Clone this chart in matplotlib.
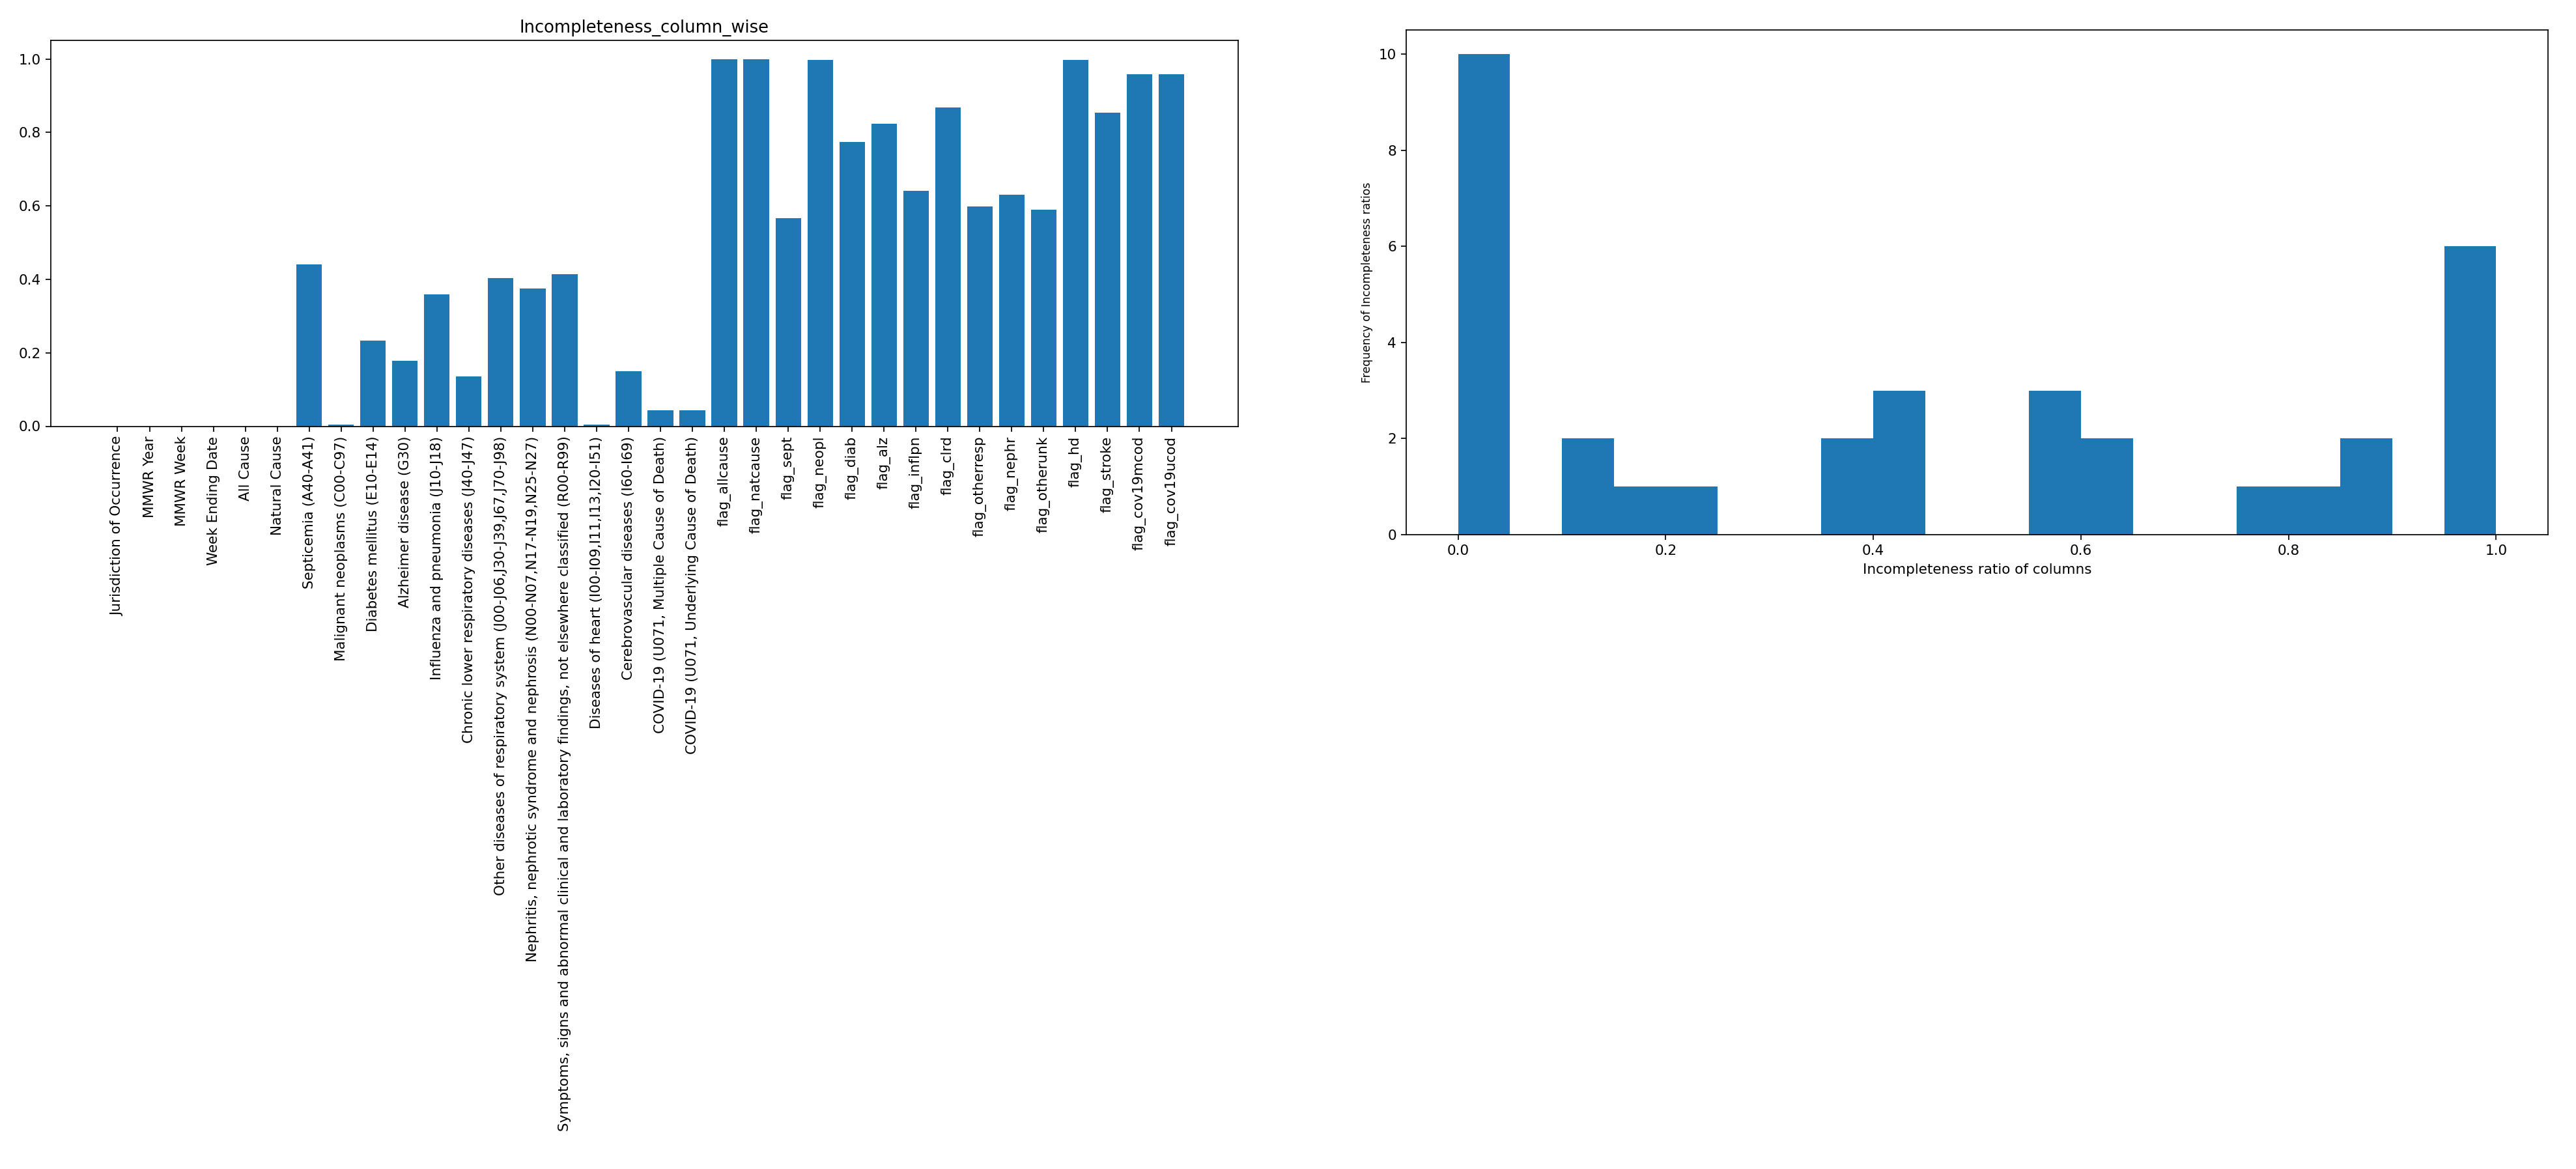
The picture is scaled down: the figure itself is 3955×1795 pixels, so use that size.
import matplotlib
matplotlib.use('Agg')
import matplotlib.pyplot as plt

# column names of the dataset (x axis of the bar chart)
columns = ['Jurisdiction of Occurrence', 'MMWR Year', 'MMWR Week', 'Week Ending Date',
           'All Cause', 'Natural Cause', 'Septicemia (A40-A41)', 'Malignant neoplasms (C00-C97)',
           'Diabetes mellitus (E10-E14)', 'Alzheimer disease (G30)', 'Influenza and pneumonia (J10-J18)',
           'Chronic lower respiratory diseases (J40-J47)',
           'Other diseases of respiratory system (J00-J06,J30-J39,J67,J70-J98)',
           'Nephritis, nephrotic syndrome and nephrosis (N00-N07,N17-N19,N25-N27)',
           'Symptoms, signs and abnormal clinical and laboratory findings, not elsewhere classified (R00-R99)',
           'Diseases of heart (I00-I09,I11,I13,I20-I51)', 'Cerebrovascular diseases (I60-I69)',
           'COVID-19 (U071, Multiple Cause of Death)', 'COVID-19 (U071, Underlying Cause of Death)',
           'flag_allcause', 'flag_natcause', 'flag_sept', 'flag_neopl', 'flag_diab', 'flag_alz',
           'flag_inflpn', 'flag_clrd', 'flag_otherresp', 'flag_nephr', 'flag_otherunk', 'flag_hd',
           'flag_stroke', 'flag_cov19mcod', 'flag_cov19ucod']

# share of missing values per column
incompleteness = [0.0, 0.0, 0.0, 0.0, 0.0, 0.0, 0.441, 0.005, 0.233, 0.179, 0.360, 0.136,
                  0.403, 0.376, 0.415, 0.005, 0.149, 0.043, 0.043,
                  1.0, 1.0, 0.566, 0.998, 0.774, 0.824, 0.642, 0.869, 0.598, 0.631, 0.589,
                  0.998, 0.854, 0.959, 0.959]

dpi = 155
fig = plt.figure(figsize=(3955 / dpi, 1795 / dpi), dpi=dpi)

ax1 = fig.add_axes([78 / 3955, 1 - 654.5 / 1795, (1901 - 78) / 3955, (654.5 - 62.5) / 1795])
ax1.bar(columns, incompleteness)
ax1.set_title('Incompleteness_column_wise')
ax1.tick_params(axis='x', labelrotation=90)

ax2 = fig.add_axes([2159 / 3955, 1 - 821 / 1795, (3912 - 2159) / 3955, (821 - 46) / 1795])
ax2.hist(incompleteness, bins=20)
ax2.set_xlabel('Incompleteness ratio of columns')
ax2.set_ylabel('Frequency of Incompleteness ratios', fontsize=8)

fig.savefig('out.png', dpi=dpi)
